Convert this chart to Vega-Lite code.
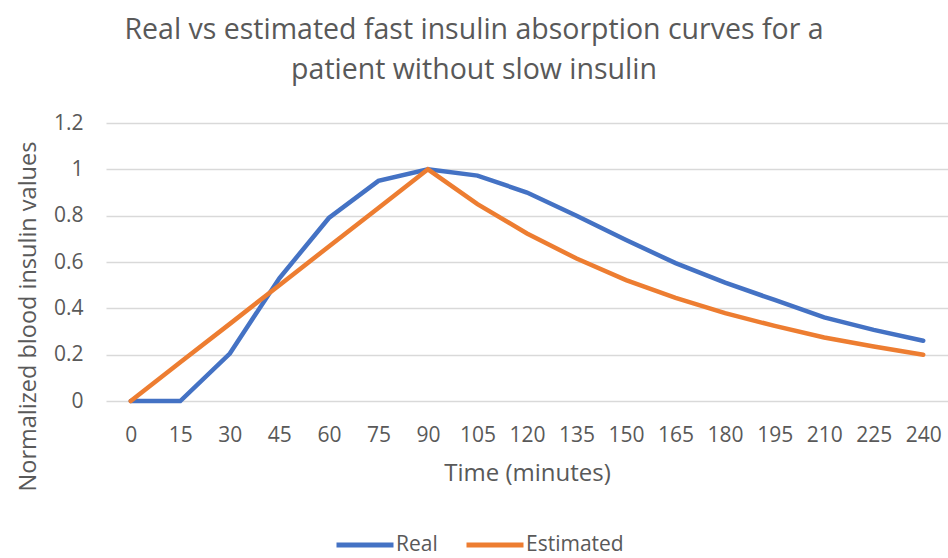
{
  "$schema": "https://vega.github.io/schema/vega-lite/v6.json",
  "autosize": {"type": "none"},
  "width": 842,
  "height": 278,
  "padding": {"left": 106, "top": 123, "right": 0, "bottom": 157},
  "background": "white",
  "config": {
    "font": "Open Sans",
    "view": {"stroke": null}
  },
  "title": {
    "text": ["Real vs estimated fast insulin absorption curves for a", "patient without slow insulin"],
    "fontSize": 28.5,
    "fontWeight": "normal",
    "color": "#595959",
    "anchor": "middle",
    "frame": "group",
    "dx": -53,
    "offset": 28,
    "lineHeight": 40
  },
  "data": {
    "values": [
      {"time": 0, "series": "Real", "value": 0},
      {"time": 15, "series": "Real", "value": 0},
      {"time": 30, "series": "Real", "value": 0.205},
      {"time": 45, "series": "Real", "value": 0.53},
      {"time": 60, "series": "Real", "value": 0.79},
      {"time": 75, "series": "Real", "value": 0.95},
      {"time": 90, "series": "Real", "value": 1.0},
      {"time": 105, "series": "Real", "value": 0.973},
      {"time": 120, "series": "Real", "value": 0.9},
      {"time": 135, "series": "Real", "value": 0.8},
      {"time": 150, "series": "Real", "value": 0.695},
      {"time": 165, "series": "Real", "value": 0.595},
      {"time": 180, "series": "Real", "value": 0.511},
      {"time": 195, "series": "Real", "value": 0.436},
      {"time": 210, "series": "Real", "value": 0.361},
      {"time": 225, "series": "Real", "value": 0.307},
      {"time": 240, "series": "Real", "value": 0.26},
      {"time": 0, "series": "Estimated", "value": 0},
      {"time": 15, "series": "Estimated", "value": 0.167},
      {"time": 30, "series": "Estimated", "value": 0.333},
      {"time": 45, "series": "Estimated", "value": 0.5},
      {"time": 60, "series": "Estimated", "value": 0.667},
      {"time": 75, "series": "Estimated", "value": 0.833},
      {"time": 90, "series": "Estimated", "value": 1.0},
      {"time": 105, "series": "Estimated", "value": 0.85},
      {"time": 120, "series": "Estimated", "value": 0.723},
      {"time": 135, "series": "Estimated", "value": 0.615},
      {"time": 150, "series": "Estimated", "value": 0.522},
      {"time": 165, "series": "Estimated", "value": 0.445},
      {"time": 180, "series": "Estimated", "value": 0.379},
      {"time": 195, "series": "Estimated", "value": 0.324},
      {"time": 210, "series": "Estimated", "value": 0.274},
      {"time": 225, "series": "Estimated", "value": 0.235},
      {"time": 240, "series": "Estimated", "value": 0.2}
    ]
  },
  "mark": {"type": "line", "strokeWidth": 4.5, "strokeCap": "round", "strokeJoin": "miter"},
  "encoding": {
    "x": {
      "field": "time",
      "type": "ordinal",
      "scale": {"type": "point", "padding": 0.5},
      "axis": {
        "title": "Time (minutes)",
        "titleFontSize": 24,
        "titleFontWeight": "normal",
        "titleColor": "#595959",
        "titlePadding": 16,
        "labelAngle": 0,
        "labelFontSize": 21,
        "labelColor": "#595959",
        "labelPadding": 23,
        "domain": false,
        "ticks": false,
        "grid": false
      }
    },
    "y": {
      "field": "value",
      "type": "quantitative",
      "scale": {"domain": [0, 1.2], "nice": false},
      "axis": {
        "values": [0, 0.2, 0.4, 0.6, 0.8, 1, 1.2],
        "format": "~g",
        "title": "Normalized blood insulin values",
        "titleFontSize": 23.5,
        "titleFontWeight": "normal",
        "titleColor": "#595959",
        "titleX": -78,
        "titleY": 193,
        "titleAnchor": null,
        "titleAlign": "center",
        "titleBaseline": "middle",
        "labelFontSize": 21,
        "labelColor": "#595959",
        "labelPadding": 23,
        "domain": false,
        "ticks": false,
        "grid": true,
        "gridColor": "#d9d9d9",
        "gridWidth": 1.3
      }
    },
    "color": {
      "field": "series",
      "type": "nominal",
      "scale": {"domain": ["Real", "Estimated"], "range": ["#4472C4", "#ED7D31"]},
      "legend": {
        "title": null,
        "orient": "none",
        "direction": "horizontal",
        "legendX": 223,
        "legendY": 386,
        "padding": 5,
        "symbolType": "stroke",
        "symbolSize": 3249,
        "symbolStrokeWidth": 5,
        "labelFontSize": 21,
        "labelColor": "#595959",
        "labelOffset": 0,
        "columnPadding": 18
      }
    }
  }
}
